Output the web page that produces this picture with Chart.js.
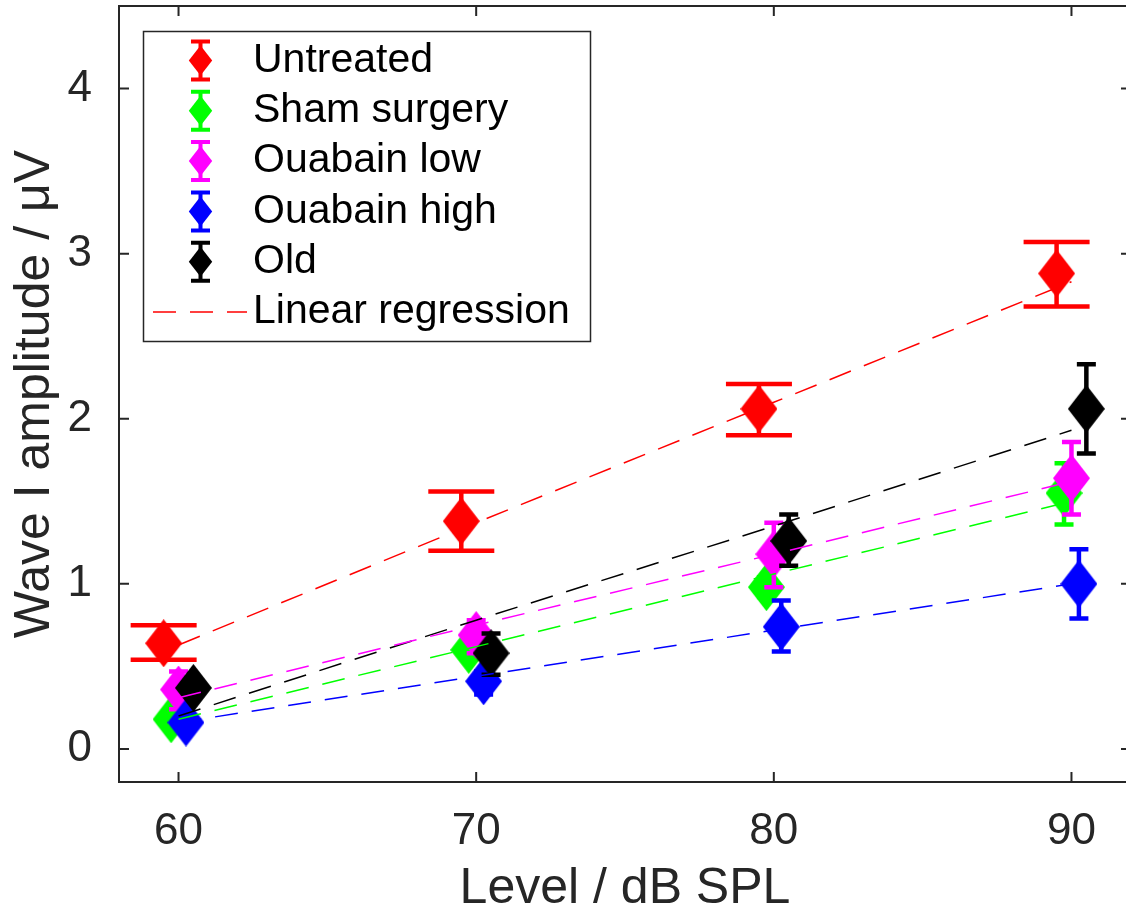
<!DOCTYPE html>
<html>
<head>
<meta charset="utf-8">
<script src="https://cdn.jsdelivr.net/npm/chart.js@4/dist/chart.umd.min.js"></script>
<style>
html,body{margin:0;padding:0;overflow:hidden;background:#ffffff;width:1126px;height:909px;}
#wrap{width:1140px;height:909px;}
canvas{display:block;}
</style>
</head>
<body>
<div id="wrap"><canvas id="c" width="1140" height="909"></canvas></div>
<script>
// ---------------- data ----------------
const levels = [60, 70, 80, 90];
const xTickValues = [60, 70, 80, 90];
const xTickLabels = ['60', '70', '80', '90'];
const yTickValues = [0, 1, 2, 3, 4];
const yTickLabels = ['0', '1', '2', '3', '4'];
const seriesNames = ['Untreated', 'Sham surgery', 'Ouabain low', 'Ouabain high', 'Old'];
const regressionLabel = 'Linear regression';
const xAxisTitle = 'Level / dB SPL';
const yAxisTitle = 'Wave I amplitude / \u03BCV';

const untreatedX = [59.5, 69.5, 79.5, 89.5];
const untreatedMean = [0.64, 1.38, 2.06, 2.88];
const untreatedLow = [0.54, 1.20, 1.90, 2.68];
const untreatedHigh = [0.75, 1.56, 2.21, 3.07];
const untreatedFit = [0.63, 1.37, 2.10, 2.83];

const shamX = [59.75, 69.75, 79.75, 89.75];
const shamMean = [0.18, 0.60, 0.98, 1.55];
const shamLow = [0.13, 0.55, 0.92, 1.36];
const shamHigh = [0.23, 0.65, 1.04, 1.73];
const shamFit = [0.18, 0.62, 1.06, 1.50];

const lowX = [60, 70, 80, 90];
const lowMean = [0.36, 0.69, 1.18, 1.64];
const lowLow = [0.24, 0.58, 0.98, 1.42];
const lowHigh = [0.47, 0.78, 1.37, 1.86];
const lowFit = [0.31, 0.75, 1.18, 1.62];

const highX = [60.25, 70.25, 80.25, 90.25];
const highMean = [0.16, 0.41, 0.74, 1.00];
const highLow = [0.11, 0.33, 0.59, 0.79];
const highHigh = [0.21, 0.47, 0.90, 1.21];
const highFit = [0.16, 0.44, 0.72, 1.00];

const oldX = [60.5, 70.5, 80.5, 90.5];
const oldMean = [0.37, 0.58, 1.26, 2.06];
const oldLow = [0.32, 0.45, 1.11, 1.79];
const oldHigh = [0.42, 0.70, 1.42, 2.33];
const oldFit = [0.20, 0.78, 1.35, 1.93];

// ---------------- styling ----------------
const AXIS_COLOR = '#262626';
const FONT = '"Liberation Sans", Arial, Helvetica, sans-serif';

function diamond(color, w, h) {
  const c = document.createElement('canvas');
  c.width = w; c.height = h;
  const g = c.getContext('2d');
  g.fillStyle = color;
  g.beginPath();
  g.moveTo(w / 2, 0); g.lineTo(w, h / 2); g.lineTo(w / 2, h); g.lineTo(0, h / 2);
  g.closePath(); g.fill();
  return c;
}

const groups = [
  { name: seriesNames[0], color: '#ff0000', x: untreatedX, mean: untreatedMean, lo: untreatedLow, hi: untreatedHigh, fit: untreatedFit, cap: 66, order: 5 },
  { name: seriesNames[1], color: '#00ff00', x: shamX, mean: shamMean, lo: shamLow, hi: shamHigh, fit: shamFit, cap: 19, order: 4 },
  { name: seriesNames[2], color: '#ff00ff', x: lowX, mean: lowMean, lo: lowLow, hi: lowHigh, fit: lowFit, cap: 19, order: 3 },
  { name: seriesNames[3], color: '#0000ff', x: highX, mean: highMean, lo: highLow, hi: highHigh, fit: highFit, cap: 19, order: 2 },
  { name: seriesNames[4], color: '#000000', x: oldX, mean: oldMean, lo: oldLow, hi: oldHigh, fit: oldFit, cap: 19, order: 1 }
];

const datasets = [];
groups.forEach(g => {
  datasets.push({
    label: g.name,
    type: 'scatter',
    data: g.x.map((x, i) => ({ x: x, y: g.mean[i] })),
    showLine: false,
    pointStyle: diamond(g.color, 37, 48),
    pointRadius: 20,
    backgroundColor: g.color,
    borderColor: g.color,
    errLow: g.lo,
    errHigh: g.hi,
    capWidth: g.cap,
    errColor: g.color,
    order: g.order,
    clip: false,
    isMarker: true
  });
});
groups.forEach(g => {
  datasets.push({
    label: regressionLabel,
    type: 'scatter',
    data: levels.map((x, i) => ({ x: x, y: g.fit[i] })),
    showLine: true,
    borderColor: g.color,
    backgroundColor: g.color,
    borderWidth: 1.5,
    borderDash: [23, 14],
    pointRadius: 0,
    fill: false,
    tension: 0,
    order: 0
  });
});

// ---------------- plugins ----------------
const errorBarPlugin = {
  id: 'errorBars',
  beforeDatasetDraw(chart, args) {
    const ds = chart.data.datasets[args.index];
    if (!ds.errLow) return;
    const ctx = chart.ctx, xs = chart.scales.x, ys = chart.scales.y;
    ctx.save();
    ctx.strokeStyle = ds.errColor;
    ctx.lineWidth = 4.5;
    ctx.lineCap = 'butt';
    ds.data.forEach((p, i) => {
      const px = xs.getPixelForValue(p.x);
      const yl = ys.getPixelForValue(ds.errLow[i]);
      const yh = ys.getPixelForValue(ds.errHigh[i]);
      const hw = ds.capWidth / 2;
      ctx.beginPath();
      ctx.moveTo(px, yl); ctx.lineTo(px, yh);
      ctx.moveTo(px - hw, yl); ctx.lineTo(px + hw, yl);
      ctx.moveTo(px - hw, yh); ctx.lineTo(px + hw, yh);
      ctx.stroke();
    });
    ctx.restore();
  }
};

const framePlugin = {
  id: 'frame',
  beforeDatasetsDraw(chart) {
    const ctx = chart.ctx, a = chart.chartArea, xs = chart.scales.x, ys = chart.scales.y;
    ctx.save();
    ctx.strokeStyle = AXIS_COLOR;
    ctx.lineWidth = 2;
    ctx.strokeRect(a.left, a.top, a.right - a.left, a.bottom - a.top);
    const tl = 10;
    ctx.beginPath();
    xTickValues.forEach(v => {
      const px = xs.getPixelForValue(v);
      ctx.moveTo(px, a.bottom); ctx.lineTo(px, a.bottom - tl);
      ctx.moveTo(px, a.top); ctx.lineTo(px, a.top + tl);
    });
    yTickValues.forEach(v => {
      const py = ys.getPixelForValue(v);
      ctx.moveTo(a.left, py); ctx.lineTo(a.left + tl, py);
      ctx.moveTo(a.right, py); ctx.lineTo(a.right - tl, py);
    });
    ctx.stroke();
    ctx.restore();
  }
};

const legendPlugin = {
  id: 'matLegend',
  afterDraw(chart) {
    const ctx = chart.ctx;
    const box = { left: 143.5, top: 31.5, right: 590.5, bottom: 341.5 };
    ctx.save();
    ctx.fillStyle = '#ffffff';
    ctx.fillRect(box.left, box.top, box.right - box.left, box.bottom - box.top);
    ctx.strokeStyle = AXIS_COLOR;
    ctx.lineWidth = 1.5;
    ctx.strokeRect(box.left, box.top, box.right - box.left, box.bottom - box.top);
    const rowY0 = 60.5, rowGap = 50.3, iconX = 200.5, textX = 253;
    ctx.font = '41px ' + FONT;
    ctx.textBaseline = 'middle';
    ctx.textAlign = 'left';
    const markers = chart.data.datasets.filter(d => d.isMarker);
    markers.forEach((d, i) => {
      const y = rowY0 + i * rowGap;
      ctx.strokeStyle = d.errColor;
      ctx.lineWidth = 4;
      ctx.beginPath();
      ctx.moveTo(iconX, y - 19); ctx.lineTo(iconX, y + 19);
      ctx.moveTo(iconX - 9.5, y - 19); ctx.lineTo(iconX + 9.5, y - 19);
      ctx.moveTo(iconX - 9.5, y + 19); ctx.lineTo(iconX + 9.5, y + 19);
      ctx.stroke();
      ctx.fillStyle = d.errColor;
      ctx.beginPath();
      ctx.moveTo(iconX, y - 15); ctx.lineTo(iconX + 11.7, y); ctx.lineTo(iconX, y + 15); ctx.lineTo(iconX - 11.7, y);
      ctx.closePath(); ctx.fill();
      ctx.fillStyle = '#000000';
      ctx.fillText(d.label, textX, y);
    });
    const ly = rowY0 + markers.length * rowGap;
    ctx.strokeStyle = groups[0].color;
    ctx.lineWidth = 1.5;
    ctx.setLineDash([23, 14]);
    ctx.beginPath();
    ctx.moveTo(153, ly); ctx.lineTo(247, ly);
    ctx.stroke();
    ctx.setLineDash([]);
    ctx.fillStyle = '#000000';
    ctx.fillText(regressionLabel, textX, ly);
    ctx.restore();
  }
};

function zeroPadding(s) {
  s.paddingTop = 0; s.paddingBottom = 0; s.paddingLeft = 0; s.paddingRight = 0;
}

// ---------------- chart ----------------
new Chart(document.getElementById('c'), {
  type: 'scatter',
  data: { datasets: datasets },
  options: {
    responsive: false,
    animation: false,
    devicePixelRatio: 1,
    layout: { autoPadding: false, padding: { top: 6, right: 9, left: 0, bottom: 0 } },
    plugins: { legend: { display: false }, tooltip: { enabled: false } },
    scales: {
      x: {
        type: 'linear',
        min: 58, max: 92,
        grid: { display: false },
        border: { display: false },
        afterBuildTicks: s => { s.ticks = xTickValues.map(v => ({ value: v })); },
        afterFit: s => { s.height = 127; zeroPadding(s); },
        ticks: {
          autoSkip: false, maxRotation: 0, padding: 15,
          color: AXIS_COLOR,
          font: { family: FONT, size: 44, lineHeight: 1.2 },
          callback: v => xTickLabels[xTickValues.indexOf(v)]
        },
        title: {
          display: true, text: xAxisTitle, color: AXIS_COLOR,
          font: { family: FONT, size: 50, lineHeight: 0.8 },
          padding: { top: 0, bottom: 0 }
        }
      },
      y: {
        type: 'linear',
        min: -0.2, max: 4.5,
        grid: { display: false },
        border: { display: false },
        afterBuildTicks: s => { s.ticks = yTickValues.map(v => ({ value: v })); },
        afterFit: s => { s.width = 119; zeroPadding(s); },
        ticks: {
          padding: 19,
          color: AXIS_COLOR,
          font: { family: FONT, size: 44, lineHeight: 1.2 },
          callback: v => yTickLabels[yTickValues.indexOf(v)]
        },
        title: {
          display: true, text: yAxisTitle, color: AXIS_COLOR,
          font: { family: FONT, size: 50, lineHeight: 1 },
          padding: { top: 10, bottom: 0 }
        }
      }
    }
  },
  plugins: [errorBarPlugin, framePlugin, legendPlugin]
});
</script>
</body>
</html>
